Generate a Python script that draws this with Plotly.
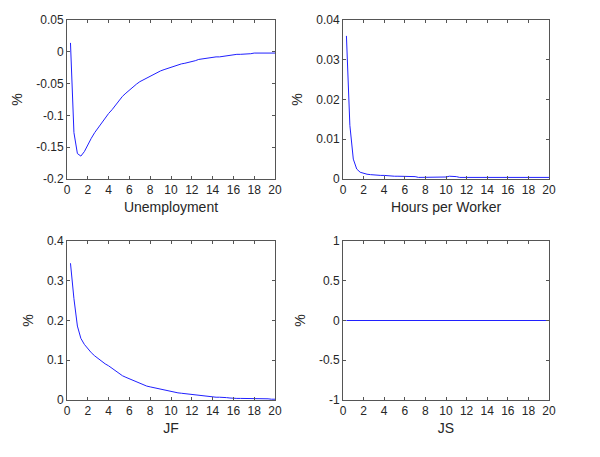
import plotly.graph_objects as go

# time axis (monthly steps shown in quarters)
t = [k / 3 for k in range(1, 61)]

unemployment = [0.014, -0.127, -0.160, -0.164, -0.157, -0.146, -0.136, -0.127, -0.119, -0.111,
                -0.104, -0.097, -0.091, -0.084, -0.077, -0.070, -0.065, -0.060, -0.056, -0.051,
                -0.047, -0.044, -0.041, -0.038, -0.035, -0.032, -0.030, -0.028, -0.026, -0.024,
                -0.022, -0.021, -0.019, -0.018, -0.017, -0.015, -0.014, -0.012, -0.011, -0.010,
                -0.009, -0.009, -0.008, -0.008, -0.007, -0.006, -0.006, -0.005, -0.004, -0.004,
                -0.004, -0.003, -0.003, -0.002, -0.002, -0.002, -0.002, -0.002, -0.002, -0.002]

hours = [0.036, 0.0135, 0.005, 0.0025, 0.0017, 0.0014, 0.0012, 0.0011, 0.0010, 0.0010,
         0.0009, 0.0009, 0.0008, 0.0007, 0.0007, 0.0007, 0.0007, 0.0007, 0.0007, 0.0007,
         0.0006, 0.0004, 0.0004, 0.0004, 0.0004, 0.0004, 0.0004, 0.0004, 0.0004, 0.0005,
         0.0007, 0.0007, 0.0006, 0.0004, 0.0004, 0.0004, 0.0004, 0.0004, 0.0004, 0.0004,
         0.0004, 0.0004, 0.0004, 0.0004, 0.0004, 0.0004, 0.0004, 0.0004, 0.0004, 0.0004,
         0.0004, 0.0004, 0.0004, 0.0004, 0.0004, 0.0004, 0.0004, 0.0004, 0.0004, 0.0004]

jf = [0.344, 0.255, 0.186, 0.155, 0.140, 0.128, 0.119, 0.111, 0.104, 0.097,
      0.091, 0.086, 0.080, 0.073, 0.066, 0.061, 0.057, 0.053, 0.050, 0.047,
      0.043, 0.039, 0.035, 0.033, 0.031, 0.030, 0.028, 0.025, 0.023, 0.021,
      0.020, 0.018, 0.017, 0.016, 0.015, 0.013, 0.013, 0.012, 0.010, 0.010,
      0.009, 0.008, 0.007, 0.007, 0.007, 0.006, 0.005, 0.004, 0.004, 0.004,
      0.004, 0.004, 0.004, 0.004, 0.004, 0.004, 0.004, 0.003, 0.002, 0.002]

js = [0.0] * 60

titles = ["Unemployment", "Hours per Worker", "JF", "JS"]
series = [unemployment, hours, jf, js]

x_ticks = [0, 2, 4, 6, 8, 10, 12, 14, 16, 18, 20]
y_ticks = [
    [0.05, 0, -0.05, -0.1, -0.15, -0.2],
    [0, 0.01, 0.02, 0.03, 0.04],
    [0, 0.1, 0.2, 0.3, 0.4],
    [-1, -0.5, 0, 0.5, 1],
]
y_ticktext = [
    ["0.05", "0", "-0.05", "-0.1", "-0.15", "-0.2"],
    ["0", "0.01", "0.02", "0.03", "0.04"],
    ["0", "0.1", "0.2", "0.3", "0.4"],
    ["-1", "-0.5", "0", "0.5", "1"],
]
y_ranges = [[-0.2, 0.05], [0, 0.04], [0, 0.4], [-1, 1]]

W, H = 600, 457
OFF = 8  # page body margin offsets the figure by 8 px
boxes = [  # left, top, right, bottom in page px
    (67, 20, 275, 179),
    (343, 20, 549, 179),
    (67, 241, 275, 400),
    (343, 241, 549, 400),
]

fig = go.Figure()
font_col = "#262626"
layout = dict(
    width=W, height=H,
    margin=dict(l=0, r=0, t=0, b=0),
    paper_bgcolor="white", plot_bgcolor="white",
    showlegend=False,
    font=dict(family="Liberation Sans, Arial, sans-serif", size=12, color=font_col),
)

for i in range(4):
    n = "" if i == 0 else str(i + 1)
    fig.add_trace(go.Scatter(x=t, y=series[i], mode="lines",
                             line=dict(color="#2020ff", width=1),
                             xaxis="x" + n, yaxis="y" + n, hoverinfo="skip"))
    l, tp, r, b = [v - OFF for v in boxes[i]]
    axcommon = dict(showline=True, linecolor="#555555", linewidth=1, mirror="ticks",
                    ticks="inside", ticklen=3, tickcolor="#555555", showgrid=False,
                    zeroline=False, automargin=False, tickfont=dict(size=12, color=font_col))
    layout["xaxis" + n] = dict(domain=[l / W, r / W], range=[0, 20], tickvals=x_ticks,
                               anchor="y" + n,
                               title=dict(text=titles[i], font=dict(size=14, color=font_col), standoff=5),
                               **axcommon)
    layout["yaxis" + n] = dict(domain=[1 - b / H, 1 - tp / H], range=y_ranges[i],
                               tickvals=y_ticks[i], ticktext=y_ticktext[i], anchor="x" + n,
                               title=dict(text="%", font=dict(size=14, color=font_col), standoff=10),
                               **axcommon)

fig.update_layout(**layout)
fig.write_html("out.html")
